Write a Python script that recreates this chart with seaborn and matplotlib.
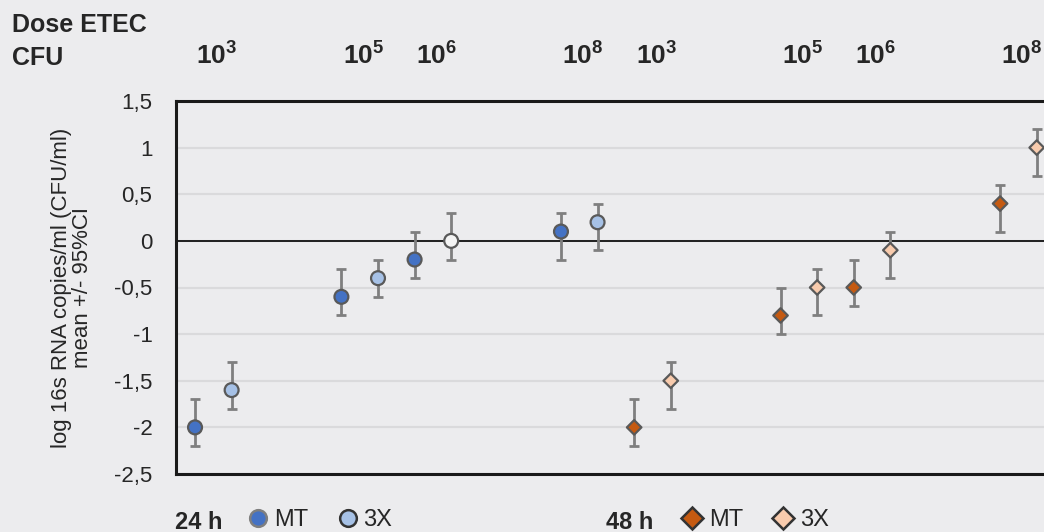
import numpy as np
import pandas as pd
import seaborn as sns
import matplotlib as mpl
from matplotlib import pyplot as plt
from matplotlib.lines import Line2D

# data
doses = [3, 5, 6, 8]
dose_labels = [r'$\mathbf{10^{3}}$', r'$\mathbf{10^{5}}$', r'$\mathbf{10^{6}}$', r'$\mathbf{10^{8}}$']
times = ['24 h', '48 h']
groups = ['MT', '3X']

mt24_mean = [-2.0, -0.6, -0.2, 0.1]
mt24_lo = [-2.2, -0.8, -0.4, -0.2]
mt24_hi = [-1.7, -0.3, 0.1, 0.3]

x24_mean = [-1.6, -0.4, 0.0, 0.2]
x24_lo = [-1.8, -0.6, -0.2, -0.1]
x24_hi = [-1.3, -0.2, 0.3, 0.4]

mt48_mean = [-2.0, -0.8, -0.5, 0.4]
mt48_lo = [-2.2, -1.0, -0.7, 0.1]
mt48_hi = [-1.7, -0.5, -0.2, 0.6]

x48_mean = [-1.5, -0.5, -0.1, 1.0]
x48_lo = [-1.8, -0.8, -0.4, 0.7]
x48_hi = [-1.3, -0.3, 0.1, 1.2]

# the 24 h 3X point at 10^6 is drawn open in the original
hollow = [('24 h', '3X', 6)]

yticks = [-2.5, -2, -1.5, -1, -0.5, 0, 0.5, 1, 1.5]
ytick_labels = ['-2,5', '-2', '-1,5', '-1', '-0,5', '0', '0,5', '1', '1,5']

sns.set_theme(style='white')
plt.rcParams['font.family'] = ['Liberation Sans', 'DejaVu Sans']
mpl.rcParams['mathtext.fontset'] = 'custom'
mpl.rcParams['mathtext.rm'] = 'Liberation Sans'
mpl.rcParams['mathtext.bf'] = 'Liberation Sans:bold'

BG = '#ECECEE'
TXT = '#262626'
colors = {'24 h MT': '#4472C4', '24 h 3X': '#A6C1E6', '48 h MT': '#C55A11',
          '48 h 3X': '#F8CBAD', 'open': '#F4F4F4'}

rows = []
series = {('24 h', 'MT'): (mt24_mean, mt24_lo, mt24_hi),
          ('24 h', '3X'): (x24_mean, x24_lo, x24_hi),
          ('48 h', 'MT'): (mt48_mean, mt48_lo, mt48_hi),
          ('48 h', '3X'): (x48_mean, x48_lo, x48_hi)}
for (t, g), (m, lo, hi) in series.items():
    for i, d in enumerate(doses):
        pos = 12 * times.index(t) + 2 * (d - 3) + groups.index(g)
        key = 'open' if (t, g, d) in hollow else t + ' ' + g
        rows.append(dict(time=t, group=g, dose=d, pos=pos, mean=m[i], lo=lo[i], hi=hi[i], key=key))
df = pd.DataFrame(rows)

fig = plt.figure(figsize=(10.44, 5.32), dpi=100, facecolor=BG)
ax = fig.add_axes([176 / 1044, 1 - 474 / 532, 879 / 1044, 373 / 532])
ax.set_facecolor(BG)

ax.yaxis.grid(True, color='#DADADC', lw=1.6, zorder=0)
ax.xaxis.grid(False)
ax.axhline(0, color='#111111', lw=1.3, zorder=1)

ax.errorbar(df['pos'], df['mean'], yerr=[df['mean'] - df['lo'], df['hi'] - df['mean']],
            fmt='none', ecolor='#7F7F7F', elinewidth=2, capsize=3.5, capthick=2, zorder=2)

for t, marker, s in [('24 h', 'o', 100), ('48 h', 'D', 55)]:
    sub = df[df['time'] == t]
    sns.scatterplot(data=sub, x='pos', y='mean', hue='key', palette=colors, marker=marker,
                    s=s, edgecolor='#595959', linewidth=1.6, legend=False, zorder=3, ax=ax)

ax.set_xlim(-0.52, 23.5)
ax.set_ylim(-2.5, 1.5)
ax.set_xticks([])
ax.set_yticks(yticks)
ax.set_yticklabels(ytick_labels, fontsize=16, color=TXT)
ax.tick_params(axis='y', length=0, pad=17)
ax.set_xlabel('')
ax.set_ylabel('log 16s RNA copies/ml (CFU/ml)\nmean +/- 95%CI', fontsize=16, color=TXT, linespacing=1.05)
ax.yaxis.set_label_coords(-0.094, 0.5)

for side in ['left', 'top', 'bottom']:
    ax.spines[side].set_color('#1A1A1A')
    ax.spines[side].set_linewidth(2.2)
ax.spines['right'].set_visible(False)

# dose labels above the plot, centred over each MT/3X pair
for t in times:
    for d, lab in zip(doses, dose_labels):
        xp = 12 * times.index(t) + 2 * (d - 3) + 0.6
        ax.text(xp, 1.0965, lab, transform=ax.get_xaxis_transform(), ha='center', va='baseline',
                fontsize=19, color=TXT)

fig.text(12 / 1044, 1 - 32 / 532, 'Dose ETEC', fontsize=18, fontweight='bold', color=TXT, va='baseline')
fig.text(12 / 1044, 1 - 65 / 532, 'CFU', fontsize=18, fontweight='bold', color=TXT, va='baseline')

# legends along the bottom
fig.text(175 / 1044, 1 - 529 / 532, '24 h', fontsize=17, fontweight='bold', color=TXT, va='baseline')
fig.text(606 / 1044, 1 - 529 / 532, '48 h', fontsize=17, fontweight='bold', color=TXT, va='baseline')

h24 = [Line2D([], [], ls='none', marker='o', ms=12, mfc=colors['24 h MT'], mec='#7F7F7F', mew=1.8),
       Line2D([], [], ls='none', marker='o', ms=12, mfc=colors['24 h 3X'], mec='#333333', mew=1.8)]
h48 = [Line2D([], [], ls='none', marker='D', ms=11, mfc=colors['48 h MT'], mec='#333333', mew=1.8),
       Line2D([], [], ls='none', marker='D', ms=11, mfc=colors['48 h 3X'], mec='#333333', mew=1.8)]

leg1 = fig.legend(h24, groups, loc='center left', bbox_to_anchor=(249 / 1044, 1 - 520 / 532),
                  ncol=2, frameon=False, fontsize=17, handlelength=0.8, handletextpad=0.25,
                  columnspacing=1.3, borderpad=0, borderaxespad=0)
leg2 = fig.legend(h48, groups, loc='center left', bbox_to_anchor=(683 / 1044, 1 - 520 / 532),
                  ncol=2, frameon=False, fontsize=17, handlelength=0.8, handletextpad=0.3,
                  columnspacing=1.3, borderpad=0, borderaxespad=0)
for leg in (leg1, leg2):
    for txt in leg.get_texts():
        txt.set_color(TXT)

fig.savefig('out.png', dpi=100, facecolor=BG)
